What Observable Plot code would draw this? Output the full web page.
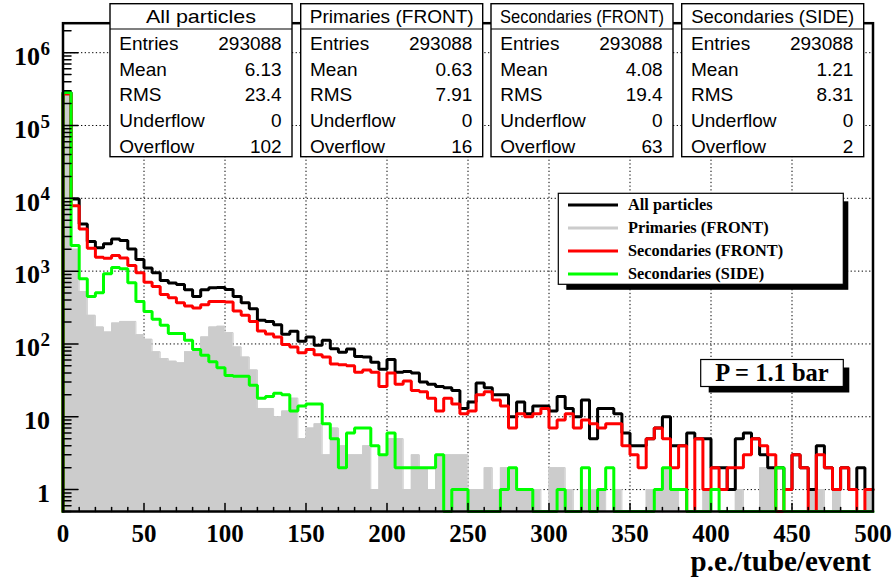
<!DOCTYPE html>
<html><head><meta charset="utf-8">
<script src="https://cdn.jsdelivr.net/npm/d3@7"></script>
<script src="https://cdn.jsdelivr.net/npm/@observablehq/plot@0.6"></script>
<style>
html,body{margin:0;padding:0;background:#fff;}
#wrap{position:relative;width:896px;height:583px;overflow:hidden;}
#wrap svg{position:absolute;left:0;top:0;}
</style></head><body><div id="wrap"></div>
<script>
// ---- data: 100 bins of width 5 from 0 to 500 (p.e./tube/event) ----
const binWidth = 5;
const allParticles = [
 285000, 9800, 4450, 2550, 2090, 2370, 2770, 2630, 2020, 1445,
 1100, 950, 745, 685, 657, 555, 450, 555, 592, 598,
 561, 450, 368, 305, 211, 204, 184, 136, 149, 109,
 125, 96, 112, 86, 77, 85, 67, 66, 56, 45,
 61, 41, 42, 40, 30, 28, 26, 25, 23, 13,
 16, 29, 25, 20, 20, 10, 16, 11, 14, 14,
 12, 19, 13, 10, 17, 5, 13, 13, 11, 6,
 4, 4, 5, 7, 10, 4, 4, 6, 5, 5,
 2, 2, 1, 5, 6, 5, 3, 2, 2, 1,
 3, 2, 1, 4, 2, 1, 2, 1, 2, 1];
const primariesFront = [
 280000, 2000, 526, 247, 171, 146, 194, 204, 204, 134,
 116, 78, 63, 58, 55, 78, 80, 125, 171, 175,
 143, 91, 66, 44, 13, 13, 10, 12, 18, 5,
 7, 8, 3, 7, 4, 3, 3, 4, 1, 3,
 5, 5, 1, 3, 2, 1, 3, 3, 3, 3,
 1, 1, 2, 1, 2, 2, 1, 1, 1, 0,
 2, 2, 1, 0, 1, 1, 1, 0, 1, 0,
 0, 0, 1, 1, 2, 1, 0, 0, 0, 1,
 0, 0, 0, 1, 0, 0, 2, 2, 0, 0,
 0, 0, 1, 1, 0, 1, 0, 0, 0, 1];
const secondariesFront = [
 270000, 7930, 3800, 2065, 1550, 1505, 1640, 1520, 1195, 950,
 706, 616, 478, 431, 368, 331, 311, 346, 384, 384,
 376, 283, 247, 204, 151, 137, 125, 98, 91, 76,
 84, 71, 66, 53, 52, 50, 41, 44, 41, 26,
 40, 28, 31, 23, 22, 18, 12, 18, 15, 11,
 12, 20, 22, 17, 14, 7, 11, 10, 11, 13,
 7, 9, 11, 7, 9, 8, 7, 8, 8, 4,
 3, 2, 5, 7, 5, 2, 4, 0, 5, 1,
 2, 1, 2, 2, 3, 5, 4, 3, 0, 1,
 3, 2, 0, 3, 2, 1, 2, 1, 0, 1];
const secondariesSide = [
 285000, 2250, 785, 450, 505, 918, 1120, 1075, 690, 384,
 280, 218, 180, 139, 139, 112, 84, 70, 57, 47,
 37, 36, 36, 27, 18, 19, 21, 20, 12, 14,
 15, 15, 8, 5, 2, 6, 7, 7, 4, 3,
 6, 2, 2, 2, 2, 2, 3, 0, 1, 1,
 0, 0, 0, 0, 1, 2, 1, 1, 0, 0,
 0, 1, 0, 0, 2, 0, 1, 2, 0, 0,
 0, 0, 0, 1, 2, 1, 1, 0, 0, 0,
 1, 0, 0, 0, 0, 0, 0, 0, 2, 0,
 0, 0, 0, 0, 0, 0, 0, 0, 0, 0];

const seriesNames = ["All particles", "Primaries (FRONT)", "Secondaries (FRONT)", "Secondaries (SIDE)"];
const seriesColors = ["#000000", "#cccccc", "#ff0000", "#00ff00"];

const statLabels = ["Entries", "Mean", "RMS", "Underflow", "Overflow"];
const statEntries = ["293088", "293088", "293088", "293088"];
const statMean = ["6.13", "0.63", "4.08", "1.21"];
const statRMS = ["23.4", "7.91", "19.4", "8.31"];
const statUnderflow = ["0", "0", "0", "0"];
const statOverflow = ["102", "16", "63", "2"];

const xTickValues = [0, 50, 100, 150, 200, 250, 300, 350, 400, 450, 500];
const xTickLabels = ["0", "50", "100", "150", "200", "250", "300", "350", "400", "450", "500"];
const xMinorTicks = d3.range(0, 501, 10).filter(v => v % 50 !== 0);
const yDecades = [1, 10, 100, 1e3, 1e4, 1e5, 1e6];
const yExponents = ["", "", "2", "3", "4", "5", "6"];
const xTitle = "p.e./tube/event";
const pressureLabel = "P = 1.1 bar";
const xDomain = [0, 500];
const yMin = 0.5, yMax = 2.54e6;

// minor log ticks
const yMinorTicks = [];
for (let e = -1; e <= 6; e++) for (let k = 2; k <= 9; k++) {
  const v = k * Math.pow(10, e);
  if (v >= yMin && v <= yMax) yMinorTicks.push(v);
}

// step outline points from bin contents
function steps(values) {
  const pts = [{x: 0, y: yMin}];
  values.forEach((v, i) => pts.push({x: i * binWidth, y: Math.max(v, yMin)}));
  pts.push({x: values.length * binWidth, y: Math.max(values[values.length - 1], yMin)});
  return pts;
}
const sAll = steps(allParticles), sPrim = steps(primariesFront),
      sSecF = steps(secondariesFront), sSecS = steps(secondariesSide);

const tickShape = {draw(context, l) { context.moveTo(0, 0); context.lineTo(0, -l); }};
const serif = "'Liberation Serif', 'Times New Roman', serif";
const grid = {stroke: "black", strokeWidth: 1, strokeDasharray: "1.3,2.4", strokeOpacity: 1};

const chart = Plot.plot({
  width: 896, height: 583,
  marginLeft: 62.5, marginRight: 23.5, marginTop: 22.7, marginBottom: 72,
  x: {domain: xDomain, axis: null},
  y: {type: "log", domain: [yMin, yMax], axis: null},
  style: {background: "white"},
  marks: [
    Plot.ruleY(yDecades, {y: d => d, ...grid}),
    Plot.ruleX(xTickValues.filter(v => v > 0 && v < 500), {x: d => d, ...grid}),
    Plot.areaY(sPrim, {x: "x", y1: d => yMin, y2: "y", curve: "step-after", fill: seriesColors[1]}),
    Plot.line(sPrim, {x: "x", y: "y", curve: "step-after", stroke: seriesColors[1], strokeWidth: 1}),
    Plot.line(sAll, {x: "x", y: "y", curve: "step-after", stroke: seriesColors[0], strokeWidth: 3, strokeLinejoin: "miter"}),
    Plot.line(sSecF, {x: "x", y: "y", curve: "step-after", stroke: seriesColors[2], strokeWidth: 3, strokeLinejoin: "miter"}),
    Plot.line(sSecS, {x: "x", y: "y", curve: "step-after", stroke: seriesColors[3], strokeWidth: 3, strokeLinejoin: "miter"}),
    // inward ticks
    Plot.vector(yDecades, {x: d => 0, y: d => d, length: 15, rotate: 90, anchor: "start", shape: tickShape, stroke: "black", strokeWidth: 1.5}),
    Plot.vector(yMinorTicks, {x: d => 0, y: d => d, length: 8, rotate: 90, anchor: "start", shape: tickShape, stroke: "black", strokeWidth: 1.5}),
    Plot.vector(xTickValues, {x: d => d, y: d => yMin, length: 8, rotate: 0, anchor: "start", shape: tickShape, stroke: "black", strokeWidth: 1.5}),
    Plot.vector(xMinorTicks, {x: d => d, y: d => yMin, length: 4, rotate: 0, anchor: "start", shape: tickShape, stroke: "black", strokeWidth: 1.5}),
    // tick labels
    Plot.text(xTickValues, {x: d => d, y: d => yMin, text: (d, i) => xTickLabels[i], lineAnchor: "middle", dy: 22, fontSize: 25, fontWeight: "bold", fontFamily: serif, fill: "black"}),
    Plot.text(yDecades.filter((d, i) => yExponents[i] === ""), {x: d => 0, y: d => d, text: d => String(d), textAnchor: "end", lineAnchor: "middle", dx: -13, dy: 4, fontSize: 26, fontWeight: "bold", fontFamily: serif, fill: "black"}),
    Plot.text(yDecades.filter((d, i) => yExponents[i] !== ""), {x: d => 0, y: d => d, text: d => "10", textAnchor: "end", lineAnchor: "middle", dx: -23, dy: 4, fontSize: 26, fontWeight: "bold", fontFamily: serif, fill: "black"}),
    Plot.text(yDecades.filter((d, i) => yExponents[i] !== ""), {x: d => 0, y: d => d, text: d => yExponents[yDecades.indexOf(d)], textAnchor: "start", lineAnchor: "middle", dx: -22.5, dy: -4, fontSize: 19, fontWeight: "bold", fontFamily: serif, fill: "black"}),
    Plot.text([xTitle], {frameAnchor: "bottom-right", text: d => d, textAnchor: "end", lineAnchor: "middle", dx: -2, dy: 50, fontSize: 29, fontWeight: "bold", fontFamily: serif, fill: "black"}),
    Plot.frame({stroke: "black", strokeWidth: 2.5})
  ]
});
document.getElementById("wrap").appendChild(chart);

// ---- overlay: stat boxes, legend, pressure label ----
const ov = d3.select("#wrap").append("svg").attr("width", 896).attr("height", 583);
const sans = "'Liberation Sans', Arial, Helvetica, sans-serif";
const boxX = [110, 300.7, 491, 681.7], boxW = 182, boxTop = 3.7, boxH = 153;
const titleLen = [110, 164, 164, 163];
const statValues = [statEntries, statMean, statRMS, statUnderflow, statOverflow];
seriesNames.forEach((t, i) => {
  const g = ov.append("g").attr("transform", `translate(${boxX[i]},${boxTop})`);
  g.append("rect").attr("width", boxW).attr("height", boxH).attr("fill", "white").attr("stroke", "black").attr("stroke-width", 1.4);
  g.append("line").attr("x1", 0).attr("x2", boxW).attr("y1", 25.3).attr("y2", 25.3).attr("stroke", "black").attr("stroke-width", 1.2);
  g.append("text").attr("x", boxW / 2).attr("y", 19.5).attr("text-anchor", "middle")
    .attr("textLength", titleLen[i]).attr("lengthAdjust", "spacingAndGlyphs")
    .style("font-family", sans).style("font-size", "19px").text(t);
  statLabels.forEach((lab, k) => {
    const y = 46.5 + 25.6 * k;
    g.append("text").attr("x", 9.3).attr("y", y).style("font-family", sans).style("font-size", "19px").text(lab);
    g.append("text").attr("x", boxW - 10.3).attr("y", y).attr("text-anchor", "end").style("font-family", sans).style("font-size", "19px").text(statValues[k][i]);
  });
});

// legend
const lg = ov.append("g");
const L = {x: 558.3, y: 193.3, w: 285, h: 91};
lg.append("rect").attr("x", L.x + 8).attr("y", L.y + 8).attr("width", L.w - 3).attr("height", L.h - 2.5).attr("fill", "black");
lg.append("rect").attr("x", L.x).attr("y", L.y).attr("width", L.w).attr("height", L.h).attr("fill", "white").attr("stroke", "black").attr("stroke-width", 1.2);
seriesNames.forEach((n, i) => {
  const y = 205 + 23 * i;
  lg.append("line").attr("x1", 568).attr("x2", 618).attr("y1", y).attr("y2", y).attr("stroke", seriesColors[i]).attr("stroke-width", 3);
  lg.append("text").attr("x", 628).attr("y", y + 5.3).style("font-family", serif).style("font-weight", "bold").style("font-size", "16.3px").text(n);
});

// pressure label
const P = {x: 700.7, y: 359.5, w: 142.6, h: 27};
ov.append("rect").attr("x", P.x + 8).attr("y", P.y + 8).attr("width", P.w - 2).attr("height", P.h - 2).attr("fill", "black");
ov.append("rect").attr("x", P.x).attr("y", P.y).attr("width", P.w).attr("height", P.h).attr("fill", "white").attr("stroke", "black").attr("stroke-width", 1.2);
ov.append("text").attr("x", P.x + P.w / 2).attr("y", P.y + 21.8).attr("text-anchor", "middle")
  .style("font-family", serif).style("font-weight", "bold").style("font-size", "24.5px").text(pressureLabel);
</script></body></html>
